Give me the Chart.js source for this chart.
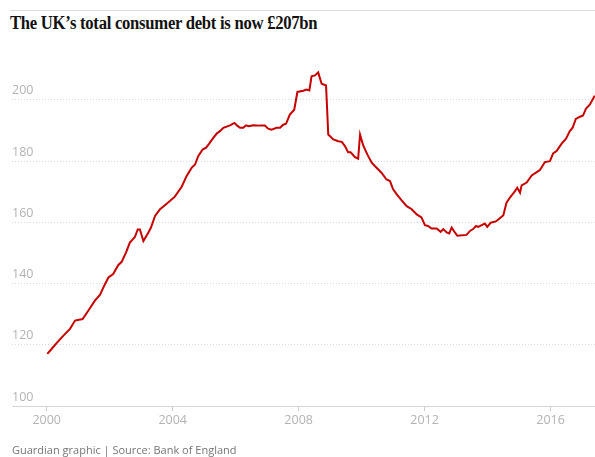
<!DOCTYPE html>
<html>
<head>
<meta charset="utf-8">
<script src="https://cdn.jsdelivr.net/npm/chart.js@4"></script>
<style>
  body { margin: 0; background: #fff; }
  #wrap { position: relative; width: 595px; height: 457px; }
  #rule { position: absolute; left: 10px; right: 0; top: 10px; border-top: 1px solid #dcdcdc; }
  #title { position: absolute; left: 10px; top: 13px; font: bold 18.5px "Liberation Serif", serif; color: #121212; white-space: nowrap; letter-spacing: -0.3px; transform: scaleX(0.9); transform-origin: left top; }
  #source { position: absolute; left: 12px; top: 442px; font: 11px "Open Sans", sans-serif; color: #767676; white-space: nowrap; }
  canvas { position: absolute; left: 0; top: 0; }
</style>
</head>
<body>
<div id="wrap">
  <div id="rule"></div>
  <div id="title">The UK’s total consumer debt is now £207bn</div>
  <canvas id="line_chart" width="595" height="457"></canvas>
  <div id="source">Guardian graphic | Source: Bank of England</div>
</div>
<script>
const years = [
  2000.02, 2000.16, 2000.32, 2000.53, 2000.74, 2000.90, 2001.14, 2001.32, 2001.53, 2001.69,
  2001.85, 2001.96, 2002.11, 2002.27, 2002.38, 2002.52, 2002.64, 2002.80, 2002.89, 2002.96,
  2003.07, 2003.23, 2003.31, 2003.44, 2003.60, 2003.81, 2004.07, 2004.29, 2004.44, 2004.60,
  2004.71, 2004.81, 2004.95, 2005.06, 2005.16, 2005.29, 2005.40, 2005.50, 2005.61, 2005.82,
  2005.96, 2006.05, 2006.14, 2006.24, 2006.33, 2006.41, 2006.56, 2006.77, 2006.93, 2007.03,
  2007.14, 2007.30, 2007.41, 2007.51, 2007.60, 2007.72, 2007.86, 2007.96, 2008.15, 2008.25,
  2008.34, 2008.41, 2008.52, 2008.62, 2008.73, 2008.87, 2008.94, 2009.10, 2009.26, 2009.37,
  2009.47, 2009.57, 2009.65, 2009.79, 2009.89, 2009.95, 2010.05, 2010.18, 2010.32, 2010.42,
  2010.63, 2010.79, 2010.90, 2011.00, 2011.11, 2011.27, 2011.43, 2011.59, 2011.75, 2011.90,
  2012.01, 2012.11, 2012.22, 2012.38, 2012.51, 2012.59, 2012.70, 2012.78, 2012.86, 2012.96,
  2013.04, 2013.33, 2013.44, 2013.54, 2013.63, 2013.70, 2013.81, 2013.91, 2013.99, 2014.10,
  2014.26, 2014.37, 2014.50, 2014.60, 2014.71, 2014.87, 2014.94, 2015.03, 2015.08, 2015.24,
  2015.40, 2015.56, 2015.66, 2015.82, 2015.98, 2016.08, 2016.19, 2016.35, 2016.49, 2016.61,
  2016.70, 2016.80, 2016.93, 2017.03, 2017.12, 2017.25, 2017.40
];
const debt = [
  117.0, 118.7, 120.6, 123.0, 125.2, 127.9, 128.4, 131.1, 134.4, 136.3,
  139.8, 142.0, 143.1, 146.0, 147.1, 150.2, 153.4, 155.2, 157.7, 157.7,
  153.9, 156.7, 158.3, 162.1, 164.3, 166.1, 168.4, 171.7, 175.1, 177.8,
  178.9, 181.6, 183.8, 184.4, 185.7, 187.6, 189.0, 189.8, 190.9, 191.7,
  192.5, 191.6, 190.9, 190.9, 191.7, 191.4, 191.7, 191.6, 191.6, 190.6,
  190.3, 190.9, 190.9, 191.9, 192.2, 195.2, 196.8, 202.6, 203.0, 203.4,
  203.1, 207.7, 208.0, 209.0, 205.3, 204.7, 188.7, 187.1, 186.5, 186.3,
  184.9, 182.9, 182.9, 181.3, 180.8, 188.7, 185.1, 182.2, 179.5, 178.4,
  176.2, 174.0, 173.5, 170.8, 169.2, 167.2, 165.3, 164.3, 162.6, 161.6,
  159.1, 158.8, 158.0, 158.0, 156.9, 157.8, 156.7, 156.4, 158.3, 156.7,
  155.6, 155.9, 157.2, 157.8, 158.8, 158.5, 159.1, 159.6, 158.5, 159.9,
  160.3, 161.2, 162.3, 166.4, 168.1, 170.2, 171.3, 169.7, 172.1, 173.0,
  175.3, 176.4, 177.1, 179.7, 180.0, 182.5, 183.3, 185.7, 187.3, 189.8,
  190.9, 193.8, 194.5, 194.9, 197.1, 198.5, 201.4
];
const xTicks = [2000, 2004, 2008, 2012, 2016];
const yTicks = [100, 120, 140, 160, 180, 200];

const points = years.map((x, i) => ({ x: x, y: debt[i] }));

const ctx = document.getElementById('line_chart').getContext('2d');
const myChart = new Chart(ctx, {
    type: 'line',
    data: {
        datasets: [{
            label: 'Consumer debt (£bn)',
            data: points,
            borderColor: '#c70000',
            borderWidth: 2,
            pointRadius: 0,
            tension: 0,
            fill: false,
        }]
    },
    options: {
        responsive: false,
        animation: false,
        layout: { padding: { left: 12, right: 0, top: 54, bottom: 27 } },
        plugins: { legend: { display: false }, tooltip: { enabled: false } },
        scales: {
            x: {
                type: 'linear',
                min: 1998.898,
                max: 2017.41,
                afterBuildTicks: axis => { axis.ticks = xTicks.map(v => ({ value: v })); },
                ticks: {
                    color: '#b3b3b3',
                    font: { family: 'Open Sans', size: 12.5 },
                    padding: 2,
                    maxRotation: 0,
                    callback: v => String(v),
                },
                grid: { drawOnChartArea: false, drawTicks: true, tickLength: 5, color: '#cccccc' },
                border: { display: true, color: '#d6d6d6', width: 1 },
            },
            y: {
                min: 100,
                max: 215,
                afterBuildTicks: axis => { axis.ticks = yTicks.map(v => ({ value: v })); },
                ticks: {
                    mirror: true,
                    padding: 0,
                    labelOffset: -9,
                    color: '#b3b3b3',
                    font: { family: 'Open Sans', size: 12.5 },
                },
                grid: { drawTicks: false, color: '#d9d9d9' },
                border: { display: false, dash: [1, 2] },
            }
        }
    }
});
</script>
</body>
</html>
